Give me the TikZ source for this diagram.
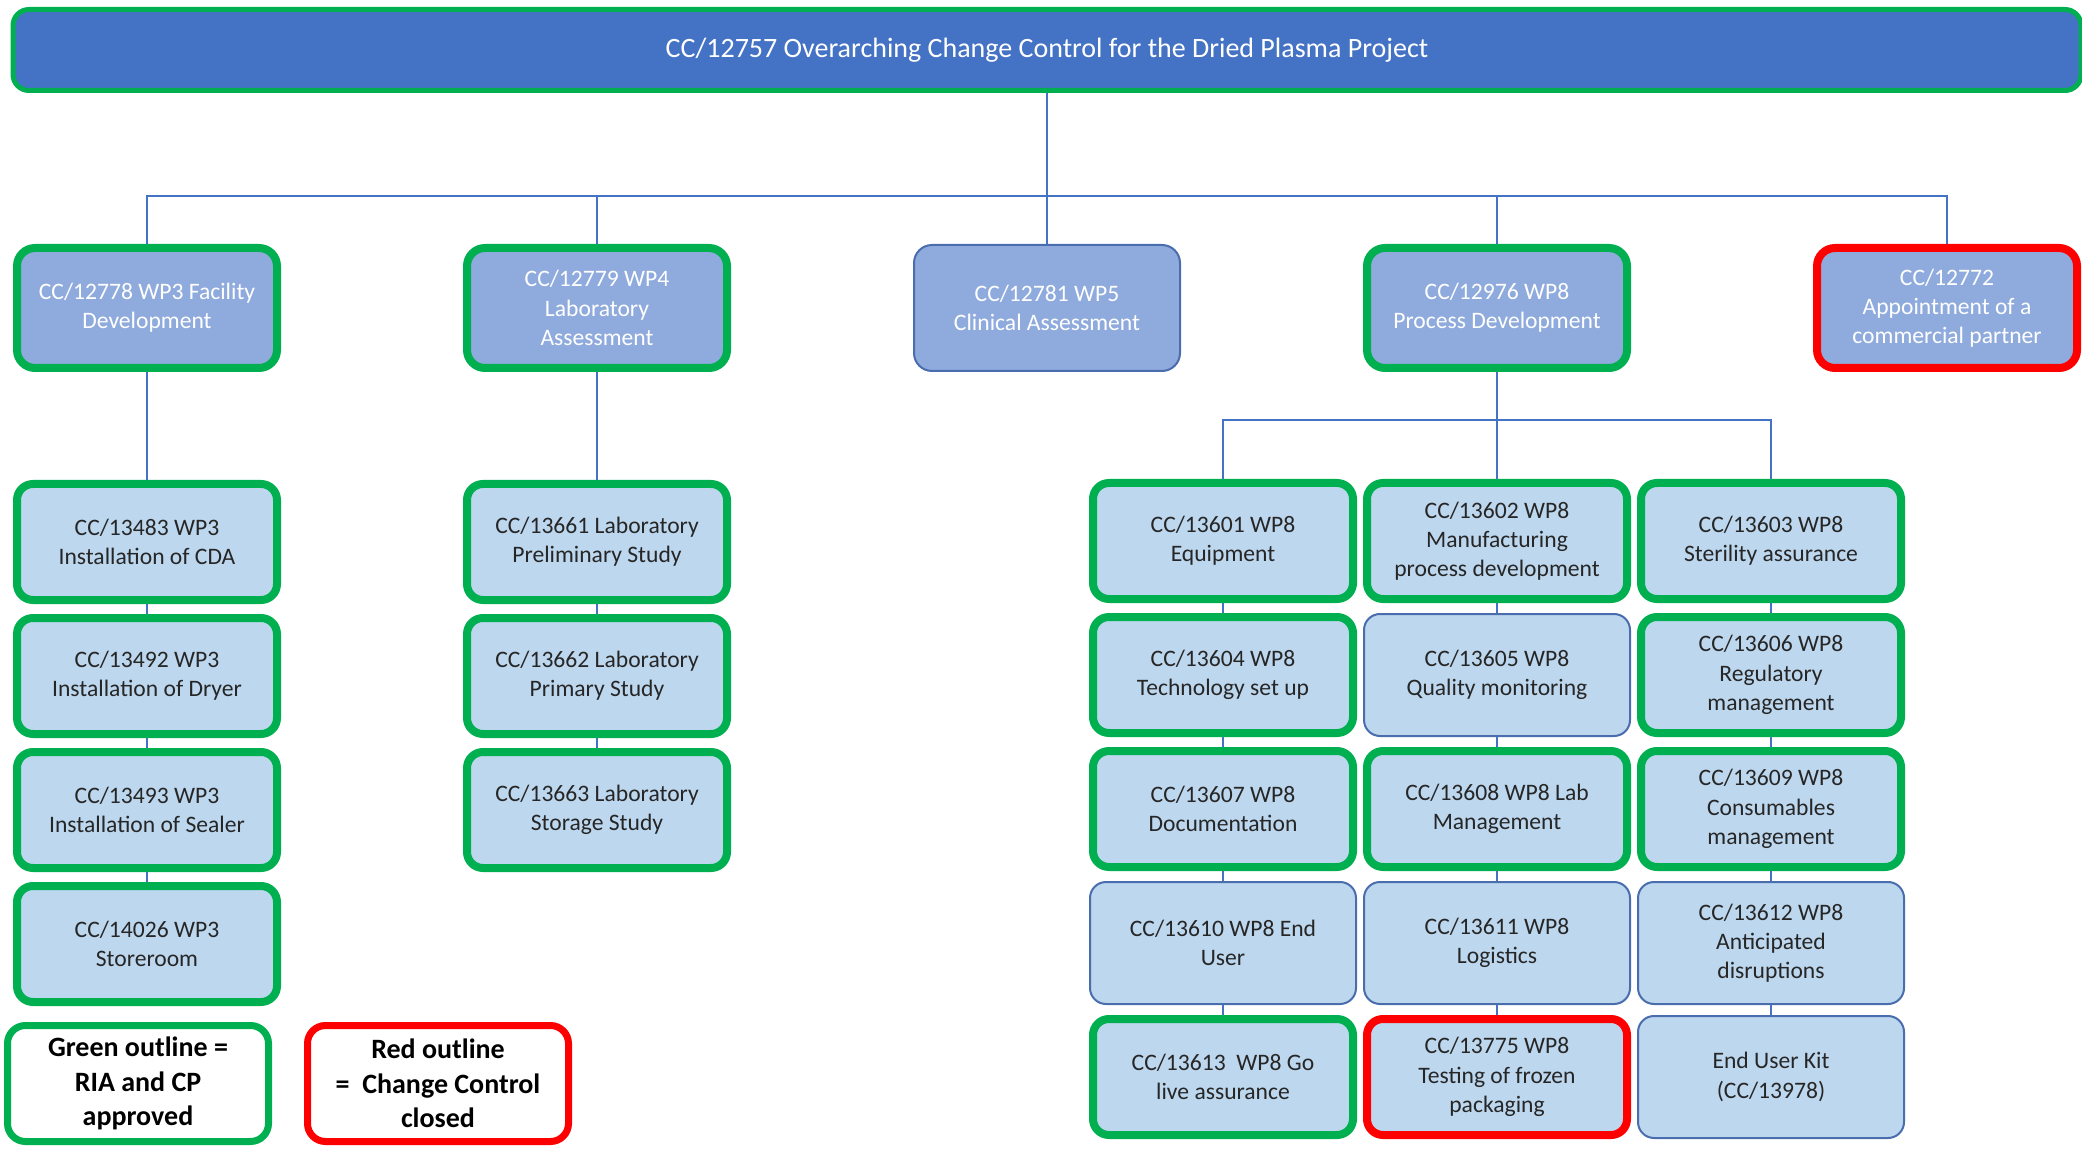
\documentclass[tikz,border=0pt]{standalone}
\usepackage{fontspec}
\setmainfont{Carlito}
\usetikzlibrary{positioning}

\definecolor{barblue}{HTML}{4472C4}
\definecolor{wpblue}{HTML}{8FAADC}
\definecolor{ccblue}{HTML}{BDD7EE}
\definecolor{okgreen}{HTML}{00B050}
\definecolor{shutred}{HTML}{FF0000}
\definecolor{openblue}{HTML}{4A6DAE}
\definecolor{linkblue}{HTML}{4472C4}

\begin{document}
\begin{tikzpicture}[
        node distance=5pt and 3pt,
        topbox/.style={rectangle, fill=barblue, draw=okgreen, line width=2.5pt, rounded corners=8pt, text=white, minimum width=1034pt, minimum height=40.5pt, font=\fontsize{14}{17}\selectfont},
        wpbox/.style={rectangle, fill=wpblue, text=white, align=center, rounded corners=9pt, minimum width=130pt, minimum height=60pt, inner sep=2pt, font=\fontsize{11.8}{14.6}\selectfont},
        ccbox/.style={rectangle, fill=ccblue, text=black!85, align=center, rounded corners=8pt, minimum width=130pt, minimum height=58pt, inner sep=2pt, font=\fontsize{11.8}{14.6}\selectfont},
        keybox/.style={rectangle, fill=white, align=center, rounded corners=9pt, line width=3.5pt, minimum width=130.5pt, minimum height=58pt, inner sep=2pt, font=\fontsize{14}{17.3}\selectfont\bfseries},
        ok/.style={draw=okgreen, line width=4pt},
        shut/.style={draw=shutred, line width=4pt},
        open/.style={draw=openblue, line width=1pt, minimum width=133pt, minimum height=#1},
        link/.style={draw=linkblue, line width=0.9pt}
    ]
    \useasboundingbox (0,0) rectangle (1041pt,-574.5pt);

    % Overarching change control
    \node (top) [topbox] at (523.5pt,-25pt) {CC/12757 Overarching Change Control for the Dried Plasma Project};

    % Work packages
    \node (wp5) [wpbox, open=63pt, below=75.5pt of top] {CC/12781 WP5\\Clinical Assessment};
    \node (wp4) [wpbox, ok, left=91pt of wp5] {CC/12779 WP4\\Laboratory\\Assessment};
    \node (wp3) [wpbox, ok, left=91pt of wp4] {CC/12778 WP3 Facility\\Development};
    \node (wp8) [wpbox, ok, right=91pt of wp5] {CC/12976 WP8\\Process Development};
    \node (partner) [wpbox, shut, right=91pt of wp8] {CC/12772\\Appointment of a\\commercial partner};

    % WP3 children
    \node (cda) [ccbox, ok, below=54pt of wp3] {CC/13483 WP3\\Installation of CDA};
    \node (dryer) [ccbox, ok, below=of cda] {CC/13492 WP3\\Installation of Dryer};
    \node (sealer) [ccbox, ok, below=of dryer] {CC/13493 WP3\\Installation of Sealer};
    \node (store) [ccbox, ok, below=of sealer] {CC/14026 WP3\\Storeroom};

    % WP4 children
    \node (prelim) [ccbox, ok, below=54pt of wp4] {CC/13661 Laboratory\\Preliminary Study};
    \node (primary) [ccbox, ok, below=of prelim] {CC/13662 Laboratory\\Primary Study};
    \node (storage) [ccbox, ok, below=of primary] {CC/13663 Laboratory\\Storage Study};

    % WP8 children
    \node (manuf) [ccbox, ok, below=53.5pt of wp8] {CC/13602 WP8\\Manufacturing\\process development};
    \node (equip) [ccbox, ok, left=of manuf] {CC/13601 WP8\\Equipment};
    \node (steril) [ccbox, ok, right=of manuf] {CC/13603 WP8\\Sterility assurance};

    \node (tech) [ccbox, ok, below=of equip] {CC/13604 WP8\\Technology set up};
    \node (quality) [ccbox, open=61pt, below=of manuf] {CC/13605 WP8\\Quality monitoring};
    \node (regul) [ccbox, ok, below=of steril] {CC/13606 WP8\\Regulatory\\management};

    \node (docs) [ccbox, ok, below=of tech] {CC/13607 WP8\\Documentation};
    \node (lab) [ccbox, ok, below=of quality] {CC/13608 WP8 Lab\\Management};
    \node (consum) [ccbox, ok, below=of regul] {CC/13609 WP8\\Consumables\\management};

    \node (enduser) [ccbox, open=61pt, below=of docs] {CC/13610 WP8 End\\User};
    \node (logist) [ccbox, open=61pt, below=of lab] {CC/13611 WP8\\Logistics};
    \node (disrupt) [ccbox, open=61pt, below=of consum] {CC/13612 WP8\\Anticipated\\disruptions};

    \node (golive) [ccbox, ok, below=of enduser] {CC/13613~~WP8 Go\\live assurance};
    \node (frozen) [ccbox, shut, below=of logist] {CC/13775 WP8\\Testing of frozen\\packaging};
    \node (kit) [ccbox, open=61pt, below=of disrupt] {End User Kit\\(CC/13978)};

    % Key
    \node (keyok) [keybox, draw=okgreen, below=8pt of store, xshift=-4.5pt] {Green outline =\\RIA and CP\\approved};
    \node (keyshut) [keybox, draw=shutred, right=16pt of keyok] {Red outline\\=\ \ Change Control\\closed};

    % Links
    \coordinate [below=51.5pt of top] (bus);
    \draw [link] (top) -- (bus);
    \foreach \wp in {wp3, wp4, wp5, wp8, partner}
        \draw [link] (bus) -| (\wp);

    \draw [link] (wp3) -- (cda) -- (dryer) -- (sealer) -- (store);
    \draw [link] (wp4) -- (prelim) -- (primary) -- (storage);

    \coordinate [below=24pt of wp8] (hub);
    \draw [link] (wp8) -- (hub);
    \draw [link] (hub) -| (equip);
    \draw [link] (hub) -| (steril);
    \draw [link] (hub) -- (manuf);
    \draw [link] (equip) -- (tech) -- (docs) -- (enduser) -- (golive);
    \draw [link] (manuf) -- (quality) -- (lab) -- (logist) -- (frozen);
    \draw [link] (steril) -- (regul) -- (consum) -- (disrupt) -- (kit);

\end{tikzpicture}
\end{document}
